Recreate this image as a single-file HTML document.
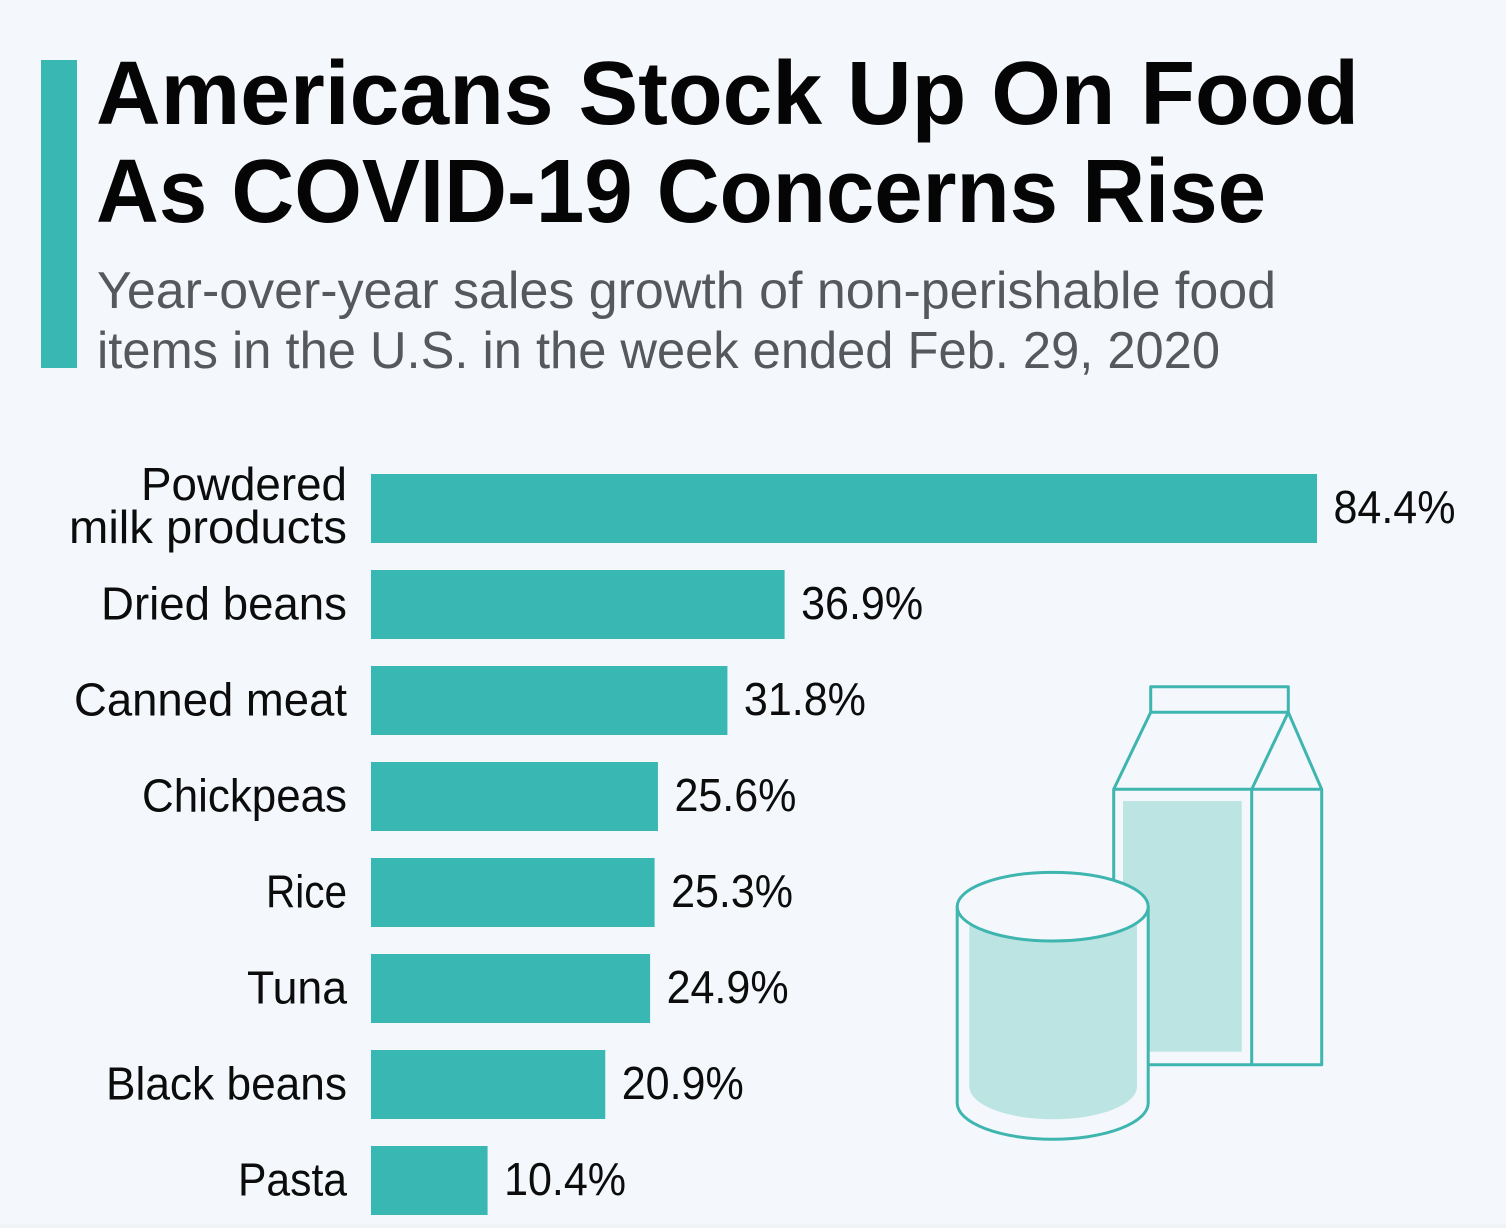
<!DOCTYPE html>
<html lang="en">
<head>
<meta charset="utf-8">
<title>Americans Stock Up On Food As COVID-19 Concerns Rise</title>
<style>
html,body{margin:0;padding:0;background:#f4f8fc;}
body{width:1506px;height:1228px;overflow:hidden;}
svg{display:block;}
text{font-family:"Liberation Sans",sans-serif;}
</style>
</head>
<body>
<svg id="chart" width="1506" height="1228" viewBox="0 0 1506 1228" xmlns="http://www.w3.org/2000/svg">
  <rect x="0" y="0" width="1506" height="1228" fill="#f4f8fc"/>
  <rect x="0" y="1224" width="1506" height="4" fill="#eff3f6"/>
  <rect x="41" y="60" width="36" height="308" fill="#38b7b3"/>
  <text x="96" y="124" font-size="90" font-weight="700" fill="#050505" textLength="1263" lengthAdjust="spacingAndGlyphs">Americans Stock Up On Food</text>
  <text x="96" y="222" font-size="90" font-weight="700" fill="#050505" textLength="1170" lengthAdjust="spacingAndGlyphs">As COVID-19 Concerns Rise</text>
  <text x="97" y="308" font-size="52" fill="#55595c" textLength="1179" lengthAdjust="spacingAndGlyphs">Year-over-year sales growth of non-perishable food</text>
  <text x="97" y="368" font-size="52" fill="#55595c" textLength="1123" lengthAdjust="spacingAndGlyphs">items in the U.S. in the week ended Feb. 29, 2020</text>

  <g id="bars"></g>
  <g id="category-labels"></g>
  <g id="value-labels"></g>

  <g fill="none" stroke="#3fb5b0" stroke-width="3" stroke-linejoin="round">
    <g>
      <rect x="1123" y="801" width="118.7" height="250.7" fill="#bce4e3" stroke="none"/>
      <rect x="1150.7" y="686.7" width="137.6" height="25.6"/>
      <path d="M1150.7 712.3 L1113.7 789.3 M1288.3 712.3 L1321.7 789.3 M1288.3 712.3 L1251.7 789.3"/>
      <rect x="1113.7" y="789.3" width="208" height="275.4"/>
      <path d="M1251.7 789.3 V1064.7"/>
    </g>
    <g>
      <path d="M957.2 906.7 V1103 A95.5 36.3 0 0 0 1148.2 1103 V906.7 Z" fill="#f4f8fc"/>
      <path d="M969.3 915 H1137 V1086.7 A83.85 32.6 0 0 1 969.3 1086.7 Z" fill="#bce4e3" stroke="none"/>
      <ellipse cx="1052.7" cy="906.7" rx="95.5" ry="34.3" fill="#f4f8fc"/>
    </g>
  </g>
</svg>
<script>
var categories = [["Powdered", "milk products"], ["Dried beans"], ["Canned meat"], ["Chickpeas"], ["Rice"], ["Tuna"], ["Black beans"], ["Pasta"]];
var seriesValues = [84.4, 36.9, 31.8, 25.6, 25.3, 24.9, 20.9, 10.4];
var valueLabels = ["84.4%", "36.9%", "31.8%", "25.6%", "25.3%", "24.9%", "20.9%", "10.4%"];

var SVG_NS = "http://www.w3.org/2000/svg";
var X_ZERO = 371, PX_PER_UNIT = 946 / 84.4;
var ROW_TOP = 474, ROW_STEP = 96, BAR_HEIGHT = 69;
/* rendered widths imitate the wider original typeface */
var labelFit = { "Powdered": 206, "milk products": 278, "Dried beans": 246, "Canned meat": 273, "Chickpeas": 205, "Rice": 81, "Tuna": 100, "Black beans": 241, "Pasta": 109 };

function xScale(v) { return X_ZERO + v * PX_PER_UNIT; }
function yScale(i) { return ROW_TOP + i * ROW_STEP; }

function makeText(content, x, y, anchor) {
  var t = document.createElementNS(SVG_NS, "text");
  t.setAttribute("x", x);
  t.setAttribute("y", y);
  t.setAttribute("font-size", "46");
  t.setAttribute("fill", "#0c0c0c");
  t.setAttribute("text-anchor", anchor);
  t.setAttribute("lengthAdjust", "spacingAndGlyphs");
  t.textContent = content;
  return t;
}

var barGroup = document.getElementById("bars");
var catGroup = document.getElementById("category-labels");
var valGroup = document.getElementById("value-labels");

seriesValues.forEach(function (v, i) {
  var y = yScale(i);
  var r = document.createElementNS(SVG_NS, "rect");
  r.setAttribute("x", X_ZERO);
  r.setAttribute("y", y);
  r.setAttribute("width", xScale(v) - X_ZERO);
  r.setAttribute("height", BAR_HEIGHT);
  r.setAttribute("fill", "#38b7b3");
  
  
  barGroup.appendChild(r);

  var mid = y + BAR_HEIGHT / 2;
  var lines = categories[i];
  lines.forEach(function (line, j) {
    var baseline = lines.length > 1 ? mid - 8.5 + j * 43 : mid + 15;
    var c = makeText(line, 347, baseline, "end");
    if (labelFit[line]) c.setAttribute("textLength", labelFit[line]);
    
    
    catGroup.appendChild(c);
  });

  var l = makeText(valueLabels[i], xScale(v) + 16.5, mid + 14.5, "start");
  l.setAttribute("textLength", 122);
  
  
  valGroup.appendChild(l);
});
</script>
</body>
</html>
